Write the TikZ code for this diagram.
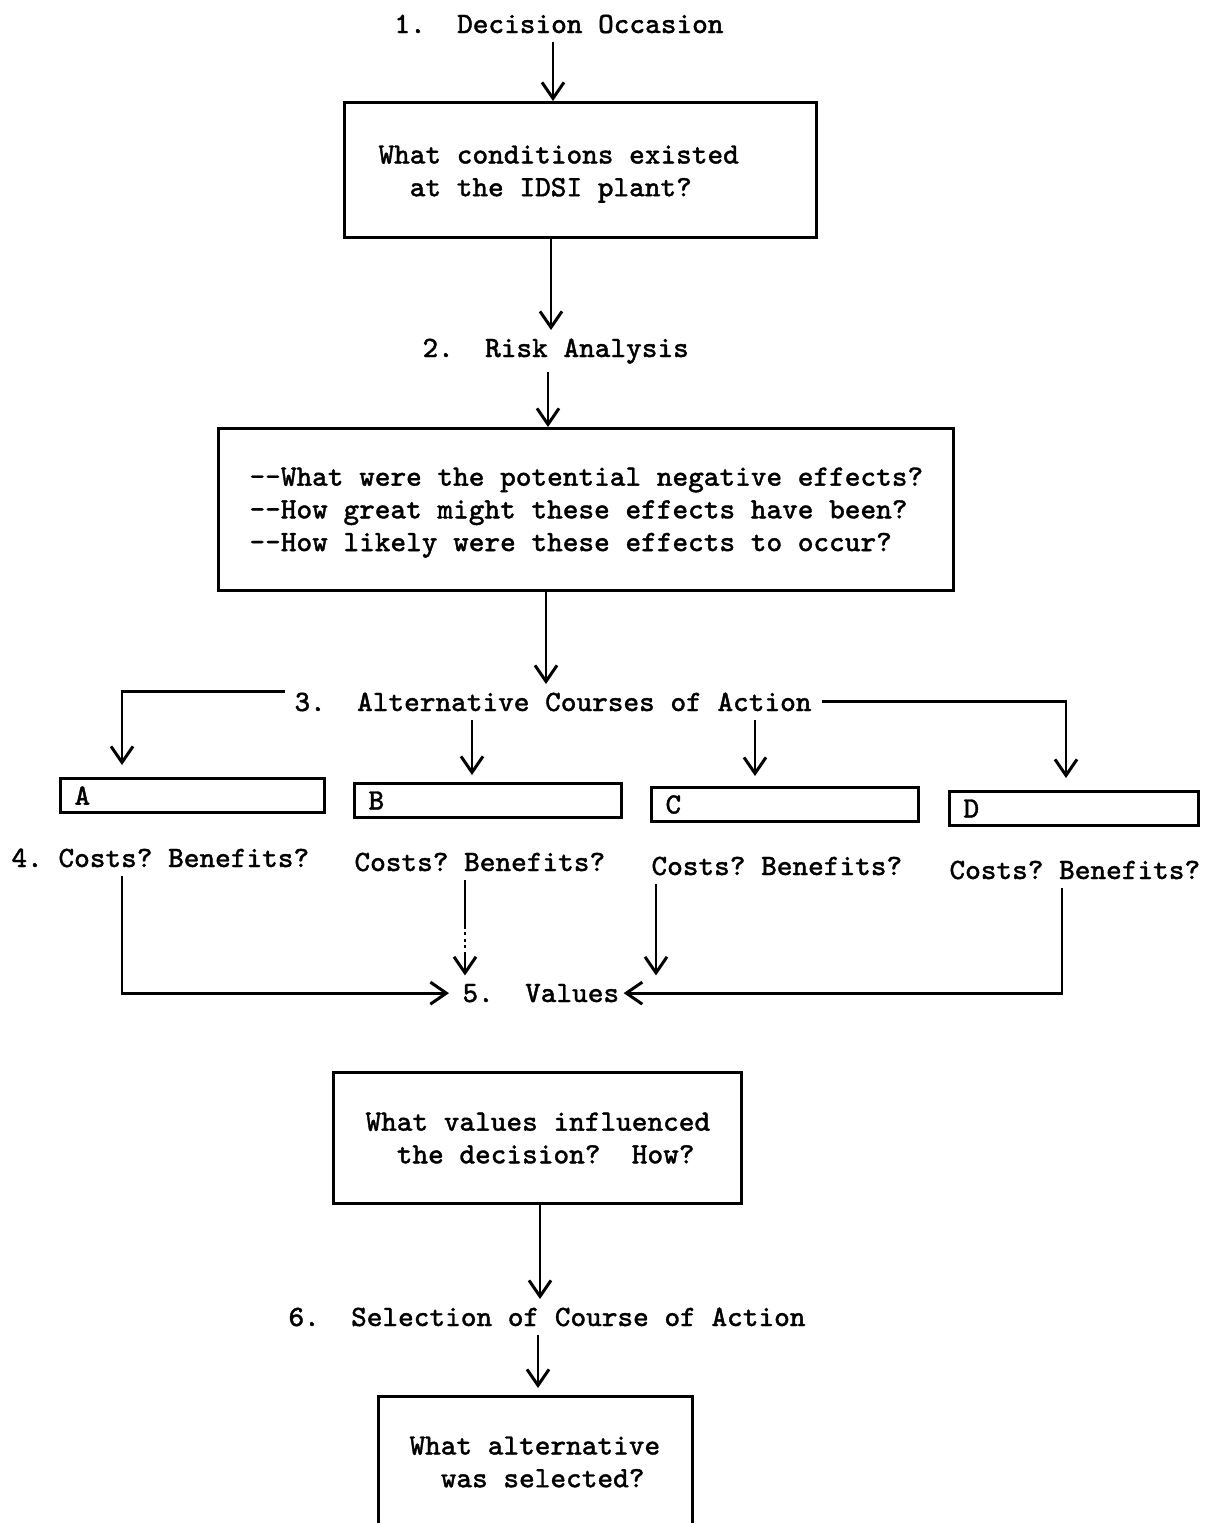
\documentclass[tikz,border=0pt]{standalone}
\usepackage{fontspec}
\usetikzlibrary{arrows.meta}

\newfontfamily\twfont[FakeBold=1.3]{Latin Modern Mono}
\newcommand\typew{\twfont\fontsize{8.39pt}{9.3pt}\selectfont\frenchspacing}
\newcommand\twodash{-\kern0pt-}

\begin{document}
\begin{tikzpicture}[x=0.01cm,y=-0.01cm,line width=0.85pt,font=\typew,
	lbl/.style={anchor=base west,inner xsep=0pt,inner ysep=2pt},
	qtxt/.style={anchor=north west,inner sep=0pt,align=left},
	qbox/.style={draw,anchor=north west,inner sep=0pt},
	alt/.style={draw,anchor=north west,inner xsep=0.14cm,inner ysep=0pt,minimum height=0.34cm,align=left,text width=#1},
	arr/.style={-{Straight Barb[length=1.6mm,width=2.2mm]}},
	gap/.style={shorten >=#1}]
		\useasboundingbox (0,0) rectangle (1206,1523);

		% 1. decision occasion
		\node[lbl] (dec) at (393,33) {1.\ \ Decision Occasion};
		\node[qbox,minimum width=4.72cm,minimum height=1.35cm] (q1) at (343,101) {};
		\node[qtxt] (q1t) at (377,144) {What conditions existed\\\phantom{12}at the IDSI plant?};

		% 2. risk analysis
		\node[lbl] (risk) at (421,357) {2.\ \ Risk Analysis};
		\node[qbox,minimum width=7.35cm,minimum height=1.62cm] (q2) at (217,427) {};
		\node[qtxt] (q2t) at (248,466) {\twodash What were the potential negative effects?\\\twodash How great might these effects have been?\\\twodash How likely were these effects to occur?};

		% 3. alternatives
		\node[lbl] (alts) at (293,711) {3.\ \ Alternative Courses of Action};
		\node[alt=2.36cm] (A) at (59,777) {A};
		\node[alt=2.39cm] (B) at (353,782) {B};
		\node[alt=2.39cm] (C) at (650,786) {C};
		\node[alt=2.21cm] (D) at (948,790) {D};

		% 4. costs and benefits
		\node[lbl] (ca) at (10,867) {4. Costs? Benefits?};
		\node[lbl] (cb) at (353,871) {Costs? Benefits?};
		\node[lbl] (cc) at (650,875) {Costs? Benefits?};
		\node[lbl] (cd) at (948,879) {Costs? Benefits?};

		% 5. values
		\node[lbl] (val) at (461,1002) {5.\ \ Values};
		\node[qbox,minimum width=4.08cm,minimum height=1.31cm] (q3) at (332,1071) {};
		\node[qtxt] (q3t) at (364,1111) {What values influenced\\\phantom{12}the decision?\ \ How?};

		% 6. selection
		\node[lbl] (sel) at (287,1326) {6.\ \ Selection of Course of Action};
		\node[qbox,minimum width=3.14cm,minimum height=1.7cm] (q4) at (377,1395) {};
		\node[qtxt] (q4t) at (408,1435) {What alternative\\\phantom{12}was selected?};

		% main column
		\draw[arr] (dec.south -| 553,0) -- (q1.north -| 553,0);
		\draw[arr] (q1.south -| 551,0) -- (risk.north -| 551,0);
		\draw[arr] (risk.south -| 548,0) -- (q2.north -| 548,0);
		\draw[arr] (q2.south -| 546,0) -- (alts.north -| 546,0);

		% branches to the alternatives
		\draw[arr,gap=0.12cm] ([shift={(-8,-10)}]alts.west) -| (A.north -| 122,0);
		\draw[arr,gap=0.07cm] (alts.south -| 472,0) -- (B.north -| 472,0);
		\draw[arr,gap=0.1cm] (alts.south -| 755,0) -- (C.north -| 755,0);
		\draw[arr,gap=0.12cm] ([shift={(9,0)}]alts.east) -| (D.north -| 1066,0);

		% into values
		\draw[arr,gap=0.12cm] (ca.south -| 122,0) |- (val.west);
		\path (cb.south -| 465,0) -- (val.north -| 465,0) coordinate[pos=0.48] (b1) coordinate[pos=0.76] (b2);
		\draw (cb.south -| 465,0) -- (b1);
		\draw[densely dotted] (b1) -- (b2);
		\draw[arr] (b2) -- (val.north -| 465,0);
		\draw[arr] (cc.south -| 656,0) -- (val.north -| 656,0);
		\draw[arr] (cd.south -| 1062,0) |- ([shift={(3,0)}]val.east);

		\draw[arr] (q3.south -| 540,0) -- (sel.north -| 540,0);
		\draw[arr,gap=0.07cm] (sel.south -| 538,0) -- (q4.north -| 538,0);
\end{tikzpicture}
\end{document}
